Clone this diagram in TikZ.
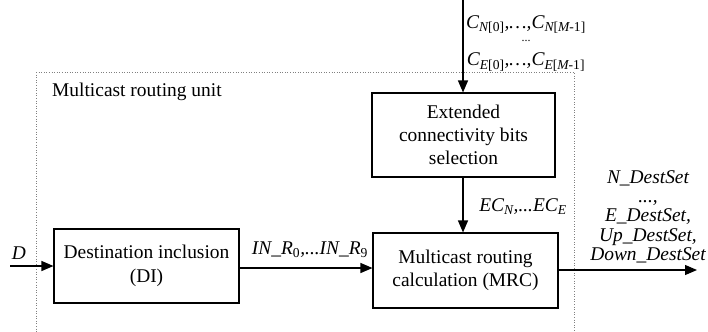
\documentclass[tikz,border=0pt]{standalone}
\usepackage{fontspec}
\setmainfont{Liberation Serif}
\usetikzlibrary{arrows.meta}
\newcommand{\noskiplim}{\lineskiplimit=-50pt\relax}
\begin{document}
\begin{tikzpicture}[x=1bp,y=-1bp,
  blk/.style={draw,line width=1.1bp,align=center,inner sep=0pt,font=\fontsize{19.5}{23.5}\selectfont},
  lbl/.style={inner sep=0pt,align=center,font=\fontsize{19.5}{19.5}\selectfont\itshape\noskiplim},
  conn/.style={line width=1.2bp,-{Triangle[length=12bp,width=10bp]}},
  unit/.style={draw=gray,dotted,line width=0.6bp}]
\useasboundingbox (0,0) rectangle (708,331);
\draw[unit] (36,72) -- (36,340) (36,72) -- (574,72) -- (574,340);
\node[inner sep=0pt,anchor=west,font=\fontsize{19.5}{20}\selectfont] (unitlbl) at (52,92) {Multicast routing unit};
\node[blk,minimum width=185bp,minimum height=74bp] (di) at (146.5,266) {Destination inclusion\\(DI)};
\node[blk,minimum width=185bp,minimum height=75bp] (mrc) at (465.5,270.5) {Multicast routing\\calculation (MRC)};
\node[blk,minimum width=183bp,minimum height=84bp,font=\fontsize{19.5}{23}\selectfont] (ecb) at (463.5,135) {Extended\\connectivity bits\\selection};
\coordinate (din) at (10,266);
\coordinate (ctop) at (463,0);
\coordinate (outend) at (697,270);
\draw[conn] (din) -- (di.west |- din);
\draw[conn] (di.east |- 0,268) -- (mrc.west |- 0,268);
\draw[conn] (ctop) -- (ecb.north -| ctop);
\draw[conn] (ecb.south -| ctop) -- (mrc.north -| ctop);
\draw[conn] (mrc.east |- outend) -- (outend);
\node[lbl] (dl) at (19,253) {D};
\node[lbl] (inr) at (310,250) {IN\_R\textsubscript{\upshape 0},...IN\_R\textsubscript{\upshape 9}};
\node[lbl] (ec) at (523,207) {EC\textsubscript{N},...EC\textsubscript{E}};
\node[lbl,anchor=north,font=\fontsize{19.5}{19}\selectfont\itshape\noskiplim] (cl) at (526,15) {C\textsubscript{N\upshape[0]},\ldots,C\textsubscript{N\upshape[\itshape M\upshape -1]}\\\raisebox{5bp}{\upshape\fontsize{12}{12}\selectfont...}\\C\textsubscript{E\upshape[0]},\ldots,C\textsubscript{E\upshape[\itshape M\upshape -1]}};
\node[lbl,anchor=north] (outl) at (648,170) {N\_DestSet\\...,\\E\_DestSet,\\Up\_DestSet,\\Down\_DestSet};
\end{tikzpicture}
\end{document}
